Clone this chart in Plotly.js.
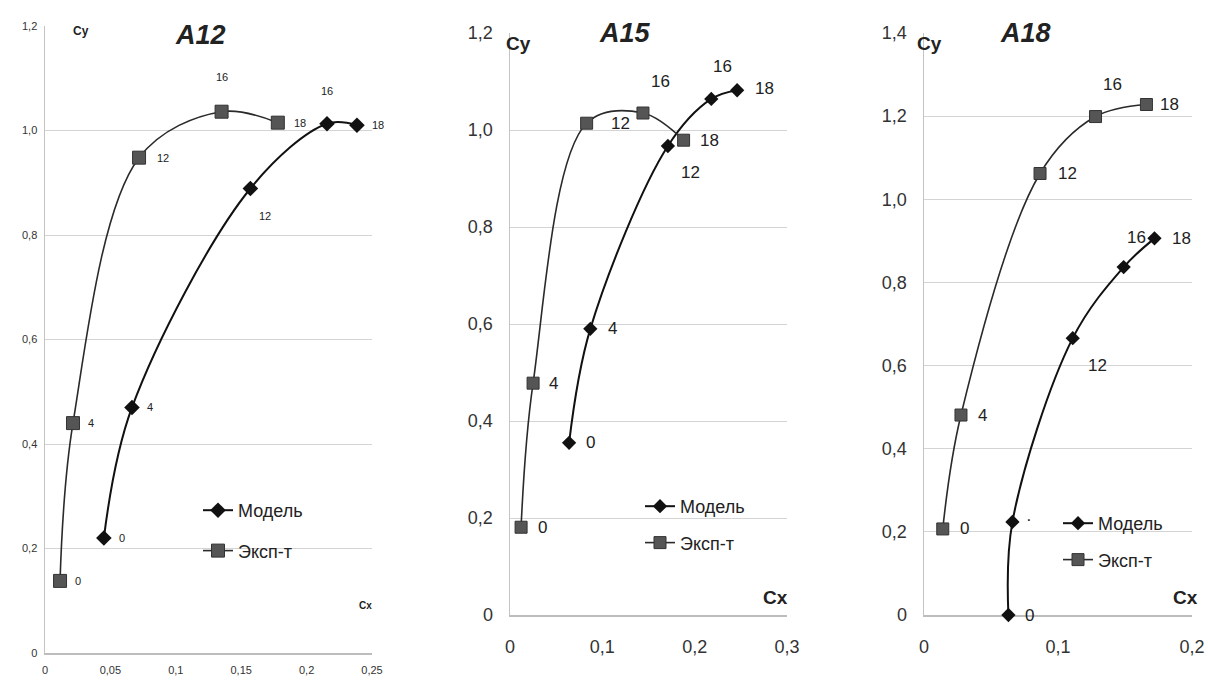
<!DOCTYPE html>
<html>
<head>
<meta charset="utf-8">
<script src="https://cdn.plot.ly/plotly-3.0.1.min.js"></script>
<style>html,body{margin:0;padding:0;background:#fff;}#chart{width:1208px;height:680px;}</style>
</head>
<body>
<div id="chart"></div>
<script>
// ---------- DATA ----------
const seriesNames = ['Модель', 'Эксп-т'];
const panelTitles = ['A12', 'A15', 'A18'];

const a12ModelCx = [0.045, 0.0665, 0.157, 0.2156, 0.2385];
const a12ModelCy = [0.22, 0.47, 0.889, 1.013, 1.01];
const a12ModelLbl = ['0', '4', '12', '16', '18'];
const a12ExpCx = [0.0115, 0.0214, 0.0719, 0.135, 0.178];
const a12ExpCy = [0.138, 0.44, 0.948, 1.036, 1.015];
const a12ExpLbl = ['0', '4', '12', '16', '18'];

const a15ModelCx = [0.064, 0.087, 0.171, 0.218, 0.246];
const a15ModelCy = [0.355, 0.59, 0.967, 1.064, 1.082];
const a15ModelLbl = ['0', '4', '12', '16', '18'];
const a15ExpCx = [0.012, 0.025, 0.083, 0.144, 0.188];
const a15ExpCy = [0.181, 0.478, 1.014, 1.035, 0.979];
const a15ExpLbl = ['0', '4', '12', '16', '18'];

const a18ModelCx = [0.063, 0.066, 0.111, 0.149, 0.172];
const a18ModelCy = [0.0, 0.224, 0.666, 0.837, 0.906];
const a18ModelLbl = ['0', '·', '12', '16', '18'];
const a18ExpCx = [0.014, 0.0276, 0.0866, 0.128, 0.166];
const a18ExpCy = [0.207, 0.481, 1.062, 1.199, 1.228];
const a18ExpLbl = ['0', '4', '12', '16', '18'];

const a12XTicks = [0, 0.05, 0.1, 0.15, 0.2, 0.25];
const a12XTickText = ['0', '0,05', '0,1', '0,15', '0,2', '0,25'];
const a15XTicks = [0, 0.1, 0.2, 0.3];
const a15XTickText = ['0', '0,1', '0,2', '0,3'];
const a18XTicks = [0, 0.1, 0.2];
const a18XTickText = ['0', '0,1', '0,2'];
const yTicks12 = [0, 0.2, 0.4, 0.6, 0.8, 1.0, 1.2];
const yTickText12 = ['0', '0,2', '0,4', '0,6', '0,8', '1,0', '1,2'];
const yTicks14 = [0, 0.2, 0.4, 0.6, 0.8, 1.0, 1.2, 1.4];
const yTickText14 = ['0', '0,2', '0,4', '0,6', '0,8', '1,0', '1,2', '1,4'];

// ---------- LABEL PLACEMENT (pixel shifts, style only) ----------
const shA12Model = [[18,0],[18,0],[15,-28],[0,33],[21,0]];
const shA12Exp   = [[18,0],[18,0],[24,0],[0,35],[22,0]];
const shA15Model = [[21,0],[22,0],[23,-26],[11,32],[27,2]];
const shA15Exp   = [[21,0],[20,0],[34,0],[18,32],[26,0]];
const shA18Model = [[21,0],[17,2],[25,-27],[13,30],[27,0]];
const shA18Exp   = [[22,0],[22,0],[27,0],[17,32],[23,0]];

// ---------- HELPERS ----------
const W = 1208, H = 680;
const px = v => v / W;
const py = v => 1 - v / H;
const FONT = 'Liberation Sans, Arial, sans-serif';

function modelTrace(x, y, xa, ya, leg, msize) {
  return {x: x, y: y, xaxis: xa, yaxis: ya, type: 'scatter', mode: 'lines+markers',
    name: seriesNames[0], legend: leg, legendgroup: leg + 'm', cliponaxis: false,
    line: {color: '#111', width: 2, shape: 'spline', smoothing: 1},
    marker: {symbol: 'diamond', size: msize, color: '#111'}, hoverinfo: 'x+y'};
}
function expTrace(x, y, xa, ya, leg, msize) {
  return {x: x, y: y, xaxis: xa, yaxis: ya, type: 'scatter', mode: 'lines+markers',
    name: seriesNames[1], legend: leg, legendgroup: leg + 'e', cliponaxis: false,
    line: {color: '#2a2a2a', width: 1.6, shape: 'spline', smoothing: 1},
    marker: {symbol: 'square', size: msize, color: '#555', line: {color: '#333', width: 1}}, hoverinfo: 'x+y'};
}
function labels(x, y, txt, sh, xr, yr, fs) {
  return x.map((v, i) => ({x: v, y: y[i], xref: xr, yref: yr, text: txt[i], showarrow: false,
    xshift: sh[i][0], yshift: sh[i][1], xanchor: 'center', yanchor: 'middle',
    font: {family: FONT, size: fs, color: '#222'}}));
}

const traces = [
  modelTrace(a12ModelCx, a12ModelCy, 'x', 'y', 'legend', 12),
  expTrace(a12ExpCx, a12ExpCy, 'x', 'y', 'legend', 13),
  modelTrace(a15ModelCx, a15ModelCy, 'x2', 'y2', 'legend2', 11),
  expTrace(a15ExpCx, a15ExpCy, 'x2', 'y2', 'legend2', 12),
  modelTrace(a18ModelCx, a18ModelCy, 'x3', 'y3', 'legend3', 11),
  expTrace(a18ExpCx, a18ExpCy, 'x3', 'y3', 'legend3', 12)
];

function xAxis(dom, rng, tv, tt, anchor, fs, so) {
  return {domain: dom, range: rng, anchor: anchor, tickmode: 'array', tickvals: tv, ticktext: tt,
    showgrid: false, zeroline: false, showline: true, linecolor: '#bdbdbd', linewidth: 2, layer: 'below traces',
    ticks: '', ticklen: 0, ticklabelstandoff: so, tickfont: {family: FONT, size: fs, color: '#333'}, fixedrange: true};
}
function yAxis(dom, rng, tv, tt, anchor, fs, so) {
  return {domain: dom, range: rng, anchor: anchor, tickmode: 'array', tickvals: tv, ticktext: tt,
    showgrid: true, gridcolor: '#d4d4d4', gridwidth: 1, zeroline: false, showline: true, layer: 'below traces',
    linecolor: '#c4c4c4', linewidth: 1.5, ticks: '', ticklen: 0, ticklabelstandoff: so,
    tickfont: {family: FONT, size: fs, color: '#333'}, fixedrange: true};
}

const legendBase = {xanchor: 'left', yanchor: 'top', bgcolor: 'rgba(0,0,0,0)', borderwidth: 0,
  traceorder: 'grouped', tracegroupgap: 14, itemwidth: 30,
  font: {family: FONT, size: 18, color: '#222'}};

const annotations = [].concat(
  labels(a12ModelCx, a12ModelCy, a12ModelLbl, shA12Model, 'x', 'y', 11),
  labels(a12ExpCx, a12ExpCy, a12ExpLbl, shA12Exp, 'x', 'y', 11),
  labels(a15ModelCx, a15ModelCy, a15ModelLbl, shA15Model, 'x2', 'y2', 17),
  labels(a15ExpCx, a15ExpCy, a15ExpLbl, shA15Exp, 'x2', 'y2', 17),
  labels(a18ModelCx, a18ModelCy, a18ModelLbl, shA18Model, 'x3', 'y3', 17),
  labels(a18ExpCx, a18ExpCy, a18ExpLbl, shA18Exp, 'x3', 'y3', 17),
  [
    {text: '<b><i>' + panelTitles[0] + '</i></b>', x: px(200), y: py(35), xref: 'paper', yref: 'paper', showarrow: false, xanchor: 'center', yanchor: 'middle', font: {family: FONT, size: 27, color: '#222'}},
    {text: '<b><i>' + panelTitles[1] + '</i></b>', x: px(625), y: py(33), xref: 'paper', yref: 'paper', showarrow: false, xanchor: 'center', yanchor: 'middle', font: {family: FONT, size: 27, color: '#222'}},
    {text: '<b><i>' + panelTitles[2] + '</i></b>', x: px(1025), y: py(33), xref: 'paper', yref: 'paper', showarrow: false, xanchor: 'center', yanchor: 'middle', font: {family: FONT, size: 27, color: '#222'}},
    {text: '<b>Cy</b>', x: px(81), y: py(31), xref: 'paper', yref: 'paper', showarrow: false, xanchor: 'center', yanchor: 'middle', font: {family: FONT, size: 12, color: '#222'}},
    {text: '<b>Cx</b>', x: px(365), y: py(605), xref: 'paper', yref: 'paper', showarrow: false, xanchor: 'center', yanchor: 'middle', font: {family: FONT, size: 10, color: '#222'}},
    {text: '<b>Cy</b>', x: px(518), y: py(43), xref: 'paper', yref: 'paper', showarrow: false, xanchor: 'center', yanchor: 'middle', font: {family: FONT, size: 19, color: '#222'}},
    {text: '<b>Cx</b>', x: px(775), y: py(597), xref: 'paper', yref: 'paper', showarrow: false, xanchor: 'center', yanchor: 'middle', font: {family: FONT, size: 19, color: '#222'}},
    {text: '<b>Cy</b>', x: px(929), y: py(43), xref: 'paper', yref: 'paper', showarrow: false, xanchor: 'center', yanchor: 'middle', font: {family: FONT, size: 19, color: '#222'}},
    {text: '<b>Cx</b>', x: px(1185), y: py(597), xref: 'paper', yref: 'paper', showarrow: false, xanchor: 'center', yanchor: 'middle', font: {family: FONT, size: 19, color: '#222'}}
  ]
);

const layout = {
  width: W, height: H,
  margin: {l: 0, r: 0, t: 0, b: 0, pad: 0},
  paper_bgcolor: '#fff', plot_bgcolor: '#fff',
  font: {family: FONT, color: '#222'},
  showlegend: true,
  xaxis:  xAxis([px(45), px(372)], [0, 0.25], a12XTicks, a12XTickText, 'y', 11, 6),
  yaxis:  yAxis([py(653), py(26)], [0, 1.2], yTicks12, yTickText12, 'x', 11, 4),
  xaxis2: xAxis([px(510), px(787)], [0, 0.3], a15XTicks, a15XTickText, 'y2', 18, 14),
  yaxis2: yAxis([py(615), py(33)], [0, 1.2], yTicks12, yTickText12, 'x2', 18, 12),
  xaxis3: xAxis([px(924), px(1192)], [0, 0.2], a18XTicks, a18XTickText, 'y3', 18, 14),
  yaxis3: yAxis([py(615), py(33)], [0, 1.4], yTicks14, yTickText14, 'x3', 18, 12),
  legend:  Object.assign({}, legendBase, {x: px(198), y: py(492)}),
  legend2: Object.assign({}, legendBase, {x: px(640), y: py(488), tracegroupgap: 10}),
  legend3: Object.assign({}, legendBase, {x: px(1058), y: py(505), tracegroupgap: 10}),
  annotations: annotations
};

Plotly.newPlot('chart', traces, layout, {displayModeBar: false, staticPlot: true});
</script>
</body>
</html>
